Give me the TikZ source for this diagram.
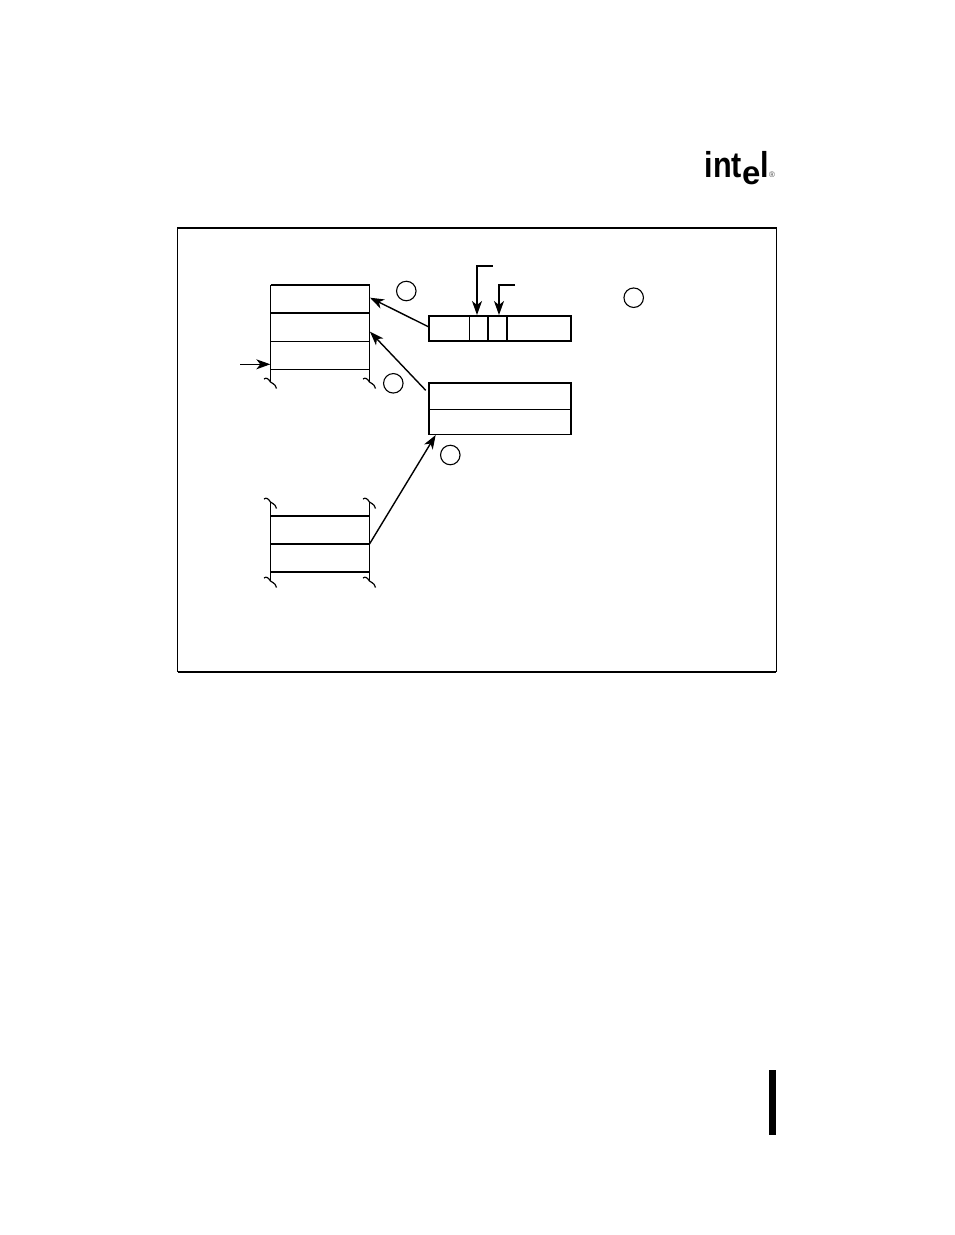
\documentclass[tikz,border=0pt]{standalone}
\usepackage{fontspec}
\setmainfont{Liberation Sans}
\usetikzlibrary{arrows.meta,positioning,calc}
\tikzset{
	x=1pt,
	y=-1pt,
	>={Stealth[length=14pt,width=10pt,inset=4pt]}, % barbed heads
	slot/.style={draw, line width=1pt, inner sep=0pt, outer sep=0pt, minimum width=99pt, minimum height=28pt, anchor=north west},
	field/.style={draw, line width=1.6pt, inner sep=0pt, outer sep=0pt, minimum height=25pt, anchor=north west},
	heavy/.style={line width=1.7pt},
	link/.style={->, line width=1.4pt},
	cut/.style={line width=1.2pt},
	marker/.style={draw, circle, line width=1.1pt, inner sep=0pt, minimum size=19.5pt},
	logotext/.style={inner sep=0pt, font=\bfseries\fontsize{36}{36}\selectfont},
}
\newcommand{\squig}[1]{\draw[cut, shift={(#1)}] (-6.5,-3) .. controls (-4,-5) and (-2,-3) .. (0,0) .. controls (1.5,2) and (4.5,1) .. (6,6.5);}
\begin{document}
\begin{tikzpicture}
	\useasboundingbox (0,0) rectangle (954,1235);

	% logo and page bar
	\node[logotext, anchor=base west] (logoint) at (704.5,177.5) {\scalebox{.85}[1]{int}};
	\node[logotext, anchor=base west, font=\bfseries\fontsize{33}{33}\selectfont] (logoe) at (742,184.5) {e};
	\node[logotext, anchor=base west] (logol) at (760,177.5) {\scalebox{.85}[1]{l}};
	\node[inner sep=0pt, font=\fontsize{8}{8}\selectfont, text=black!70] (logoreg) at (772,175) {®};
	\node[fill=black, inner sep=0pt, minimum width=7.5pt, minimum height=65pt, anchor=north west] (bar) at (768.7,1070) {};

	% frame
	\node[draw, line width=1.1pt, inner sep=0pt, outer sep=0pt, minimum width=598.5pt, minimum height=443.5pt, anchor=north west] (frame) at (177.7,228) {};
	\draw[line width=2pt] (frame.south west) -- (frame.south east);

	% upper stack
	\node[slot] (top0) at (270.5,285) {};
	\node[slot] (top1) at (270.5,313) {};
	\node[slot] (top2) at (270.5,341) {};
	\draw[heavy] (top0.north west) -- (top0.north east);
	\draw[heavy] (top1.north west) -- (top1.north east);
	\coordinate (topl) at (270.5,382);
	\coordinate (topr) at (369.5,382);
	\draw[cut] (top2.south west) -- (topl);
	\draw[cut] (top2.south east) -- (topr);
	\squig{topl}
	\squig{topr}

	% lower stack
	\node[slot] (low0) at (270.5,516) {};
	\node[slot] (low1) at (270.5,544) {};
	\draw[heavy] (low0.north west) -- (low0.north east);
	\draw[heavy] (low1.north west) -- (low1.north east);
	\draw[heavy] (low1.south west) -- (low1.south east);
	\coordinate (lowal) at (270.5,502);
	\coordinate (lowar) at (369.5,502);
	\coordinate (lowbl) at (270.5,581);
	\coordinate (lowbr) at (369.5,581);
	\draw[cut] (low0.north west) -- (lowal);
	\draw[cut] (low0.north east) -- (lowar);
	\draw[cut] (low1.south west) -- (lowbl);
	\draw[cut] (low1.south east) -- (lowbr);
	\squig{lowal}
	\squig{lowar}
	\squig{lowbl}
	\squig{lowbr}

	% selector box
	\node[field, minimum width=142pt] (selbox) at (429,316) {};
	\coordinate (div1) at (469.7,316);
	\coordinate (div2) at (488,316);
	\coordinate (div3) at (507,316);
	\draw[line width=1pt] (div1) -- (div1 |- selbox.south);
	\draw[heavy] (div2) -- (div2 |- selbox.south);
	\draw[heavy] (div3) -- (div3 |- selbox.south);

	% descriptor box
	\node[field, minimum width=142pt, minimum height=51.5pt] (desc) at (429,383) {};
	\draw[line width=1pt] ($(desc.west)+(0,0.8)$) -- ($(desc.east)+(0,0.8)$);

	% arrows
	\coordinate (ptr) at (240,364.3);
	\coordinate (ptrend) at (270.3,364.3);
	\draw[link, line width=1pt] (ptr) -- (ptrend);
	\coordinate (selout) at (428.3,326.7);
	\coordinate (top0in) at (370,297.7);
	\draw[link] (selout) -- (top0in);
	\coordinate (descout) at (425.7,390.3);
	\coordinate (top1in) at (370,331.7);
	\draw[link] (descout) -- (top1in);
	\coordinate (descin) at (435.7,435);
	\draw[link] (low1.north east) -- (descin);
	\coordinate (flaga) at (492.7,265.7);
	\coordinate (flagaend) at (477,315);
	\draw[link, line width=1.6pt] (flaga) -| (flagaend);
	\coordinate (flagb) at (515,284.7);
	\coordinate (flagbend) at (499,315);
	\draw[link, line width=1.6pt] (flagb) -| (flagbend);

	% markers
	\node[marker] (m1) at (406.3,291) {};
	\node[marker] (m2) at (393.3,383.3) {};
	\node[marker] (m3) at (633.7,297.7) {};
	\node[marker] (m4) at (450.3,455) {};
\end{tikzpicture}
\end{document}
